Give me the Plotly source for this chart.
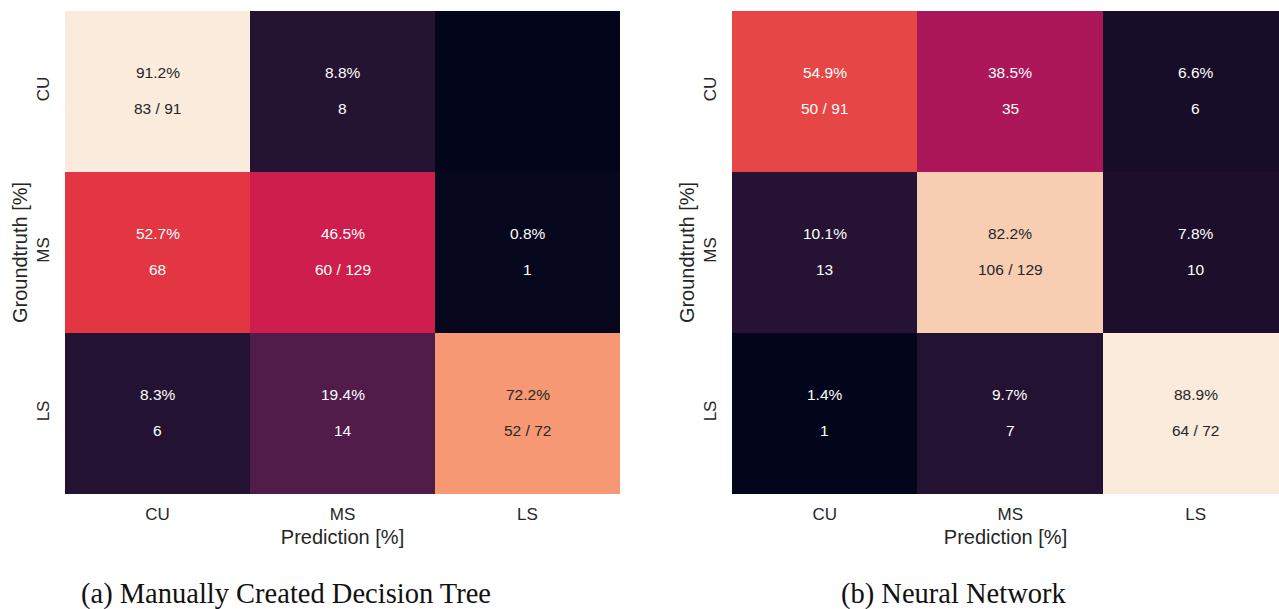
import plotly.graph_objects as go

classes = ["CU", "MS", "LS"]

# Manually created decision tree: row-normalised percentages and counts
dt_percent = [[91.2, 8.8, 0.0],
              [52.7, 46.5, 0.8],
              [8.3, 19.4, 72.2]]
dt_counts = [[83, 8, 0],
             [68, 60, 1],
             [6, 14, 52]]

# Neural network
nn_percent = [[54.9, 38.5, 6.6],
              [10.1, 82.2, 7.8],
              [1.4, 9.7, 88.9]]
nn_counts = [[50, 35, 6],
             [13, 106, 10],
             [1, 7, 64]]

row_totals = [91, 129, 72]

captions = ["(a) Manually Created Decision Tree", "(b) Neural Network"]

rocket = [
    [0.0, "#03051A"],
    [1 / 7, "#35193E"],
    [2 / 7, "#701F57"],
    [3 / 7, "#AD1759"],
    [0.5, "#CB1B4F"],
    [4 / 7, "#E13342"],
    [5 / 7, "#F37651"],
    [6 / 7, "#F6B48F"],
    [1.0, "#FAEBDD"],
]

W, H = 1279, 609
SANS = "Liberation Sans, Arial, sans-serif"
TXT = "#262626"

fig = go.Figure()

panels = [
    dict(p=dt_percent, c=dt_counts, xa="x", ya="y", dom=[65 / W, 620 / W], rng=[-0.5, 2.5]),
    dict(p=nn_percent, c=nn_counts, xa="x2", ya="y2", dom=[732 / W, 1.0], rng=[-0.5, 2.449]),
]
ydom = [1 - 494 / H, 1 - 11 / H]

annotations = []
for k, pan in enumerate(panels):
    fig.add_trace(go.Heatmap(
        z=pan["p"], x=classes, y=classes, colorscale=rocket, showscale=False,
        xaxis=pan["xa"], yaxis=pan["ya"], hoverinfo="skip",
    ))
    flat = [v for row in pan["p"] for v in row]
    lo, hi = min(flat), max(flat)
    for i, r in enumerate(classes):
        for j, c in enumerate(classes):
            cnt = pan["c"][i][j]
            if cnt == 0:
                continue
            pct = pan["p"][i][j]
            col = TXT if (pct - lo) / (hi - lo) > 0.7 else "white"
            cnt_txt = f"{cnt} / {row_totals[i]}" if i == j else f"{cnt}"
            annotations.append(dict(x=c, y=r, xref=pan["xa"], yref=pan["ya"],
                                    text=f"{pct:.1f}%", showarrow=False, yshift=19,
                                    font=dict(family=SANS, size=15.5, color=col)))
            annotations.append(dict(x=c, y=r, xref=pan["xa"], yref=pan["ya"],
                                    text=cnt_txt, showarrow=False, yshift=-17,
                                    font=dict(family=SANS, size=15.5, color=col)))

for k, cx in enumerate([286 / W, 953.5 / W]):
    annotations.append(dict(x=cx, y=1 - 594 / H, xref="paper", yref="paper",
                            text=captions[k], showarrow=False, xanchor="center", yanchor="middle",
                            font=dict(family="Liberation Serif, Times New Roman, serif", size=28.5, color="#111111")))

axis_common = dict(showgrid=False, zeroline=False, showline=False, ticks="",
                   tickfont=dict(family=SANS, size=17, color=TXT))

layout = dict(
    width=W, height=H, margin=dict(l=0, r=0, t=0, b=0),
    paper_bgcolor="white", plot_bgcolor="white",
    annotations=annotations, font=dict(family=SANS, color=TXT),
)
for k, pan in enumerate(panels):
    sx = "" if k == 0 else "2"
    layout[f"xaxis{sx}"] = dict(axis_common, domain=pan["dom"], range=pan["rng"],
                                anchor=pan["ya"], ticklabelstandoff=8,
                                title=dict(text="Prediction [%]", standoff=6,
                                           font=dict(family=SANS, size=20, color=TXT)))
    layout[f"yaxis{sx}"] = dict(axis_common, domain=ydom, autorange="reversed",
                                anchor=pan["xa"], tickangle=-90, ticklabelstandoff=12,
                                title=dict(text="Groundtruth [%]", standoff=0,
                                           font=dict(family=SANS, size=20, color=TXT)))

fig.update_layout(**layout)
fig.write_html("out.html", config={"displayModeBar": False},
               post_script="document.body.style.margin='0';document.body.style.overflow='hidden';")
